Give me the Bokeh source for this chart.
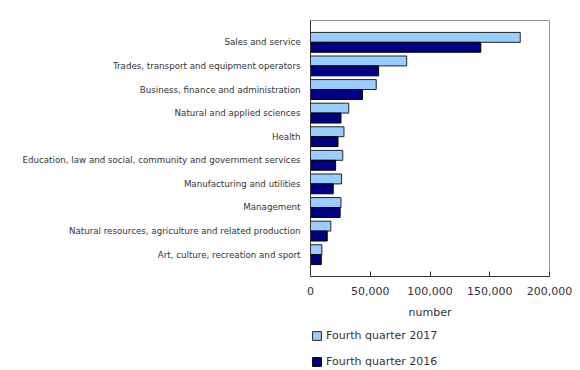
from bokeh.plotting import figure
from bokeh.models import ColumnDataSource, FactorRange, Range1d, NumeralTickFormatter, Legend, LegendItem
from bokeh.transform import dodge
from bokeh.layouts import column
from bokeh.embed import file_html
from bokeh.resources import INLINE

categories = [
    "Sales and service",
    "Trades, transport and equipment operators",
    "Business, finance and administration",
    "Natural and applied sciences",
    "Health",
    "Education, law and social, community and government services",
    "Manufacturing and utilities",
    "Management",
    "Natural resources, agriculture and related production",
    "Art, culture, recreation and sport",
]
q4_2017 = [175500, 80500, 55000, 32000, 28000, 27000, 26000, 25500, 17000, 9500]
q4_2016 = [142500, 57000, 43500, 25500, 23000, 21000, 19000, 24800, 14000, 9000]
x_ticks = [0, 50000, 100000, 150000, 200000]
series_labels = ["Fourth quarter 2017", "Fourth quarter 2016"]

FONT = "DejaVu Sans"
TXT = "#333333"
C17 = dict(fill_color="#99CCFF", line_color="#222222", line_width=1)
C16 = dict(fill_color="#000080", line_color="#000000", line_width=1)

src = ColumnDataSource(dict(cat=categories, a=q4_2017, b=q4_2016))

p = figure(
    y_range=FactorRange(factors=list(reversed(categories)), range_padding=0.085),
    x_range=Range1d(0, 200000),
    width=580, height=326,
    min_border_left=310, min_border_top=20, min_border_right=31, min_border_bottom=50,
    output_backend="svg", toolbar_location=None,
)

p.hbar(y=dodge("cat", 0.21, range=p.y_range), right="a", left=0, height=0.42,
       source=src, **C17)
p.hbar(y=dodge("cat", -0.21, range=p.y_range), right="b", left=0, height=0.42,
       source=src, **C16)

p.xgrid.visible = False
p.ygrid.visible = False
p.outline_line_color = "#999999"

xa = p.xaxis[0]
xa.ticker = x_ticks
xa.formatter = NumeralTickFormatter(format="0,0")
xa.axis_label = "number"
xa.axis_label_text_font = FONT
xa.axis_label_text_font_style = "normal"
xa.axis_label_text_font_size = "11px"
xa.axis_label_text_color = TXT
xa.axis_label_standoff = 8
xa.major_label_text_font = FONT
xa.major_label_text_font_size = "11px"
xa.major_label_text_color = TXT
xa.major_tick_in = 5
xa.major_tick_out = 0
xa.minor_tick_line_color = None
xa.axis_line_color = "#333333"
xa.major_tick_line_color = "#333333"
xa.major_label_standoff = 10

ya = p.yaxis[0]
ya.major_label_text_font = FONT
ya.major_label_text_font_size = "8.7px"
ya.major_label_text_color = TXT
ya.major_tick_line_color = None
ya.major_tick_in = 0
ya.major_tick_out = 0
ya.axis_line_color = "#333333"
ya.major_label_standoff = 10

# legend strip below the chart (proxy renderers draw nothing: NaN geometry)
p2 = figure(width=580, height=44, x_range=Range1d(0, 1), y_range=Range1d(0, 1),
            min_border=0, min_border_left=310,
            output_backend="svg", toolbar_location=None)
p2.axis.visible = False
p2.grid.visible = False
p2.outline_line_color = None
p2.border_fill_color = "white"
nan = float("nan")
proxy = ColumnDataSource(dict(y=[nan], right=[nan], left=[nan]))
l1 = p2.hbar(y="y", right="right", left="left", height=0.5, source=proxy, **C17)
l2 = p2.hbar(y="y", right="right", left="left", height=0.5, source=proxy, **C16)

legend = Legend(items=[LegendItem(label=series_labels[0], renderers=[l1], index=0),
                       LegendItem(label=series_labels[1], renderers=[l2], index=0)],
                orientation="vertical", location=(1, 2))
legend.label_text_font = FONT
legend.label_text_font_size = "11px"
legend.label_text_color = TXT
legend.glyph_width = 11
legend.glyph_height = 11
legend.label_standoff = 4
legend.spacing = 13
legend.padding = 0
legend.margin = 0
legend.border_line_color = None
legend.background_fill_alpha = 0
legend.label_height = 11
p2.add_layout(legend)

open("out.html", "w").write(file_html(column(p, p2, spacing=0), INLINE))
